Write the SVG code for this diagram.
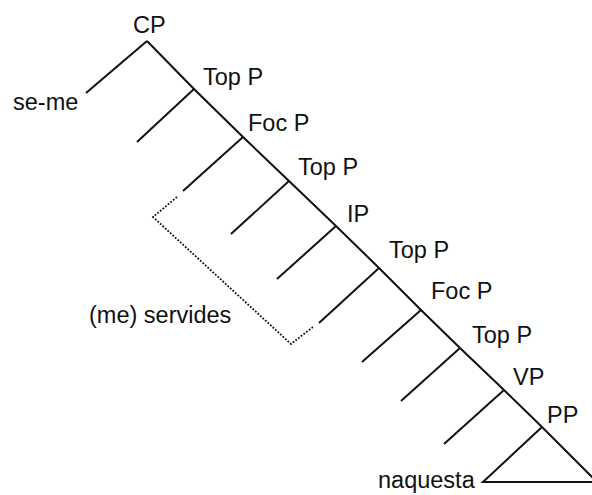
<svg xmlns="http://www.w3.org/2000/svg" width="592" height="495" viewBox="0 0 592 495">
<style>
text{font-family:"Liberation Sans",Arial,sans-serif;font-size:23.5px;fill:#111}
.l{stroke:#111;stroke-width:2;fill:none;stroke-linecap:butt}
.d{stroke:#111;stroke-width:1.8;fill:none;stroke-dasharray:1.8 1.6}
</style>
<rect width="592" height="495" fill="#fff"/>
<g id="connectors">
<polyline class="l" points="147,41 194,89 243,137 289,181 336,226 379,268 421,310 460,348 504,390 542,427 597,482"/>
<line class="l" x1="147" y1="41" x2="86" y2="93"/>
<line class="l" x1="194" y1="89" x2="137" y2="142"/>
<line class="l" x1="243" y1="137" x2="183" y2="191"/>
<line class="l" x1="289" y1="181" x2="231" y2="234"/>
<line class="l" x1="336" y1="226" x2="277" y2="279"/>
<line class="l" x1="379" y1="268" x2="319" y2="323"/>
<line class="l" x1="421" y1="310" x2="362" y2="362"/>
<line class="l" x1="460" y1="348" x2="401" y2="401"/>
<line class="l" x1="504" y1="390" x2="444" y2="444"/>
<polyline class="l" points="542,427 483,482 597,482"/>
<polyline class="d" points="177,197 153,217 291,344 313,327"/>
</g>
<g id="cp"><text x="133" y="33">CP</text></g>
<g id="seme"><text x="13" y="110">se-me</text></g>
<g id="top1"><text x="203" y="85">Top P</text></g>
<g id="foc1"><text x="248" y="131">Foc P</text></g>
<g id="top2"><text x="298" y="175">Top P</text></g>
<g id="ip"><text x="347" y="222">IP</text></g>
<g id="top3"><text x="389" y="258">Top P</text></g>
<g id="foc2"><text x="431" y="299">Foc P</text></g>
<g id="top4"><text x="472" y="343">Top P</text></g>
<g id="vp"><text x="513" y="385">VP</text></g>
<g id="pp"><text x="547" y="423">PP</text></g>
<g id="servides"><text x="89" y="323">(me) servides</text></g>
<g id="naquesta"><text x="378" y="488">naquesta</text></g>
</svg>
